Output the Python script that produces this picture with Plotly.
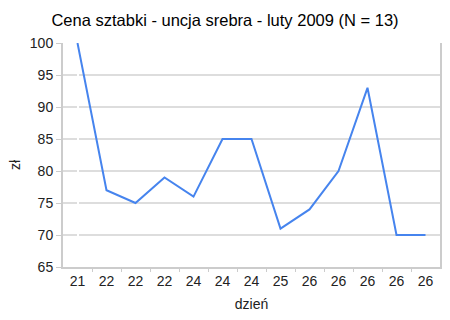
import plotly.graph_objects as go

days = ["21", "22", "22", "22", "24", "24", "24", "25", "26", "26", "26", "26", "26"]
prices = [100, 77, 75, 79, 76, 85, 85, 71, 74, 80, 93, 70, 70]
y_ticks = [65, 70, 75, 80, 85, 90, 95, 100]

idx = list(range(len(days)))

fig = go.Figure()
fig.add_trace(go.Scatter(x=idx, y=prices, mode="lines",
                         line=dict(color="#4684ee", width=2), hoverinfo="skip"))

grid = "#dddddd"
fig.update_layout(
    width=450, height=320,
    margin=dict(l=63, r=10, t=43, b=53, autoexpand=False),
    paper_bgcolor="white", plot_bgcolor="white",
    font=dict(family="Liberation Sans, Arial", size=14, color="#222222"),
    title=dict(text="Cena sztabki - uncja srebra - luty 2009 (N = 13)",
               x=0.5, xanchor="center", y=1 - 20 / 320, yanchor="middle",
               font=dict(size=16.5, color="#000000")),
    showlegend=False,
    annotations=[dict(text="zł", textangle=-90, xref="paper", yref="paper",
                      x=(15 - 63) / 377, y=(267 - 165) / 224,
                      xanchor="center", yanchor="middle", showarrow=False,
                      font=dict(size=14, color="#222222"))],
)
fig.update_xaxes(
    range=[-0.5, len(days) - 0.5],
    tickmode="array", tickvals=idx, ticktext=days,
    ticks="", showgrid=False,
    showline=True, linecolor="#cccccc", linewidth=2,
    minor=dict(tickmode="array", tickvals=[i + 0.5 for i in idx[:-1]],
               ticks="outside", ticklen=3, tickcolor="#cccccc", showgrid=False),
    title=dict(text="dzień", standoff=11, font=dict(size=14)),
    tickfont=dict(size=14, color="#222222"),
    automargin=False,
    fixedrange=True,
)
fig.update_yaxes(
    range=[65, 100],
    tickmode="array", tickvals=y_ticks,
    ticks="outside", ticklen=5, tickcolor="#cccccc",
    showgrid=True, gridcolor=grid, gridwidth=2,
    showline=True, linecolor="#cccccc", linewidth=2, mirror=True,
    zeroline=False,
    tickfont=dict(size=14, color="#222222"),
    automargin=False,
    fixedrange=True,
)

fig.write_html("out.html")
